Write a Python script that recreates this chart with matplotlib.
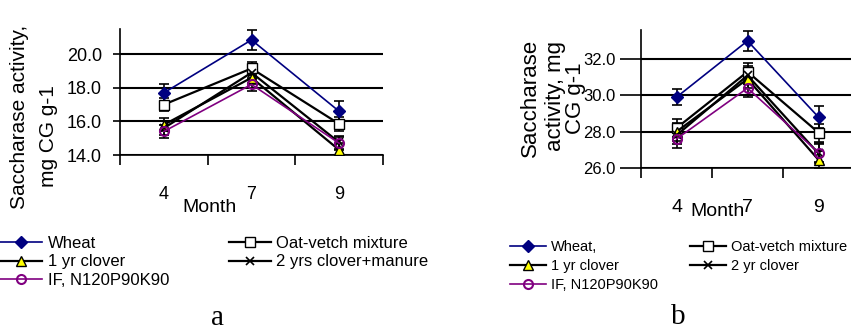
import matplotlib
matplotlib.use("Agg")
import matplotlib.pyplot as plt

plt.rcParams['font.family'] = ['Liberation Sans', 'DejaVu Sans']

months = ['4', '7', '9']

# panel a
wheat_a = [17.7, 20.85, 16.6]
oat_a = [17.0, 19.15, 15.85]
clover1_a = [15.8, 18.6, 14.3]
clover2_a = [15.6, 18.9, 14.75]
if_a = [15.4, 18.2, 14.7]
wheat_a_err = [0.5, 0.6, 0.6]
other_a_err = [0.4, 0.4, 0.4]

# panel b
wheat_b = [29.9, 33.0, 28.8]
oat_b = [28.2, 31.3, 27.95]
clover1_b = [28.0, 30.9, 26.45]
clover2_b = [27.8, 31.1, 26.8]
if_b = [27.6, 30.4, 26.85]
wheat_b_err = [0.45, 0.55, 0.6]
other_b_err = [0.5, 0.5, 0.5]

labels_a = ['Wheat', '1 yr clover', 'IF, N120P90K90',
            'Oat-vetch mixture', '2 yrs clover+manure']
labels_b = ['Wheat,', '1 yr clover', 'IF, N120P90K90',
            'Oat-vetch mixture', '2 yr clover']

W, H = 851, 331
fig = plt.figure(figsize=(W / 100, H / 100), dpi=100)


def px(x0, y_top, x1, y_bot):
    return [x0 / W, 1 - y_bot / H, (x1 - x0) / W, (y_bot - y_top) / H]


def panel(ax, series, errs, ylim, yticks, ytick_size, xtick_size, ytick_len, ypad):
    x = [0.5, 1.5, 2.5]
    styles = [
        dict(color='#000080', marker='D', ms=6.5, mfc='#000080', mec='#000080', lw=1.2),
        dict(color='black', marker='s', ms=6.5, mfc='white', mec='black', lw=1.6),
        dict(color='black', marker='^', ms=6.5, mfc='#ffff00', mec='black', lw=1.6),
        dict(color='black', marker='x', ms=6, mfc='none', mec='black', mew=1.2, lw=1.6),
        dict(color='#800080', marker='o', ms=6.5, mfc='none', mec='#800080', mew=1.5, lw=1.2),
    ]
    handles = []
    for vals, err, st in zip(series, errs, styles):
        ax.errorbar(x, vals, yerr=err, fmt='none', ecolor='black', elinewidth=1.2,
                    capsize=3.5, capthick=1.2, zorder=3)
        h, = ax.plot(x, vals, zorder=4, **st)
        handles.append(h)
    ax.set_xlim(0, 3)
    ax.set_ylim(*ylim)
    ax.set_yticks(yticks)
    ax.set_yticklabels(['%.1f' % v for v in yticks], fontsize=ytick_size)
    ax.set_xticks([0, 1, 2, 3])
    ax.set_xticklabels([])
    ax.set_xticks(x, minor=True)
    ax.set_xticklabels(months, minor=True, fontsize=xtick_size)
    ax.tick_params(axis='x', which='major', direction='out', length=7, width=1.2)
    ax.tick_params(axis='x', which='minor', length=0, pad=22)
    ax.tick_params(axis='y', direction='out', length=ytick_len, width=1.2, pad=ypad)
    ax.grid(axis='y', color='black', lw=1.5)
    ax.set_axisbelow(True)
    for s in ['top', 'right']:
        ax.spines[s].set_visible(False)
    for s in ['left', 'bottom']:
        ax.spines[s].set_linewidth(1.2)
    return handles


# ---- a ----
ax_a = fig.add_axes(px(120, 29, 383, 155))
h_a = panel(ax_a, [wheat_a, oat_a, clover1_a, clover2_a, if_a],
            [wheat_a_err, other_a_err, other_a_err, other_a_err, other_a_err],
            (14, 21.5), [14.0, 16.0, 18.0, 20.0], 13, 13, 5, 8)
fig.text(20 / W, 1 - 117 / H, 'Saccharase activity,', rotation=90,
         ha='center', va='center', fontsize=15)
fig.text(48 / W, 1 - 136 / H, 'mg CG g-1', rotation=90,
         ha='center', va='center', fontsize=15)
fig.text(209 / W, 1 - 208 / H, 'Month', ha='center', va='center', fontsize=14)
order = [0, 2, 4, 1, 3]
fig.legend([h_a[i] for i in order], labels_a, loc='upper left',
           bbox_to_anchor=(0 / W, 1 - 236 / H), ncol=2, frameon=False,
           fontsize=12, borderpad=0, borderaxespad=0, handlelength=2.5,
           handletextpad=0.35, columnspacing=3.6, labelspacing=0.2)
fig.text(218 / W, 1 - 325 / H, 'a', ha='center', va='baseline', fontsize=21,
         family='Liberation Serif')

# ---- b ----
ax_b = fig.add_axes(px(641, 30, 854, 168))
h_b = panel(ax_b, [wheat_b, oat_b, clover1_b, clover2_b, if_b],
            [wheat_b_err, other_b_err, other_b_err, other_b_err, other_b_err],
            (26, 33.6), [26.0, 28.0, 30.0, 32.0], 12, 14, 15, 3)
for txt, xc, yc in [('Saccharase', 530, 98), ('activity, mg', 555, 96), ('CG g-1', 576, 98)]:
    fig.text(xc / W, 1 - yc / H, txt, rotation=90, ha='center', va='center', fontsize=16)
fig.text(718 / W, 1 - 212 / H, 'Month', ha='center', va='center', fontsize=14)
fig.legend([h_b[i] for i in order], labels_b, loc='upper left',
           bbox_to_anchor=(510 / W, 1 - 240 / H), ncol=2, frameon=False,
           fontsize=10.5, borderpad=0, borderaxespad=0, handlelength=2.5,
           handletextpad=0.3, columnspacing=2.2, labelspacing=0.35)
fig.text(678 / W, 1 - 324 / H, 'b', ha='center', va='baseline', fontsize=21,
         family='Liberation Serif')

fig.savefig('out.png', dpi=100)
